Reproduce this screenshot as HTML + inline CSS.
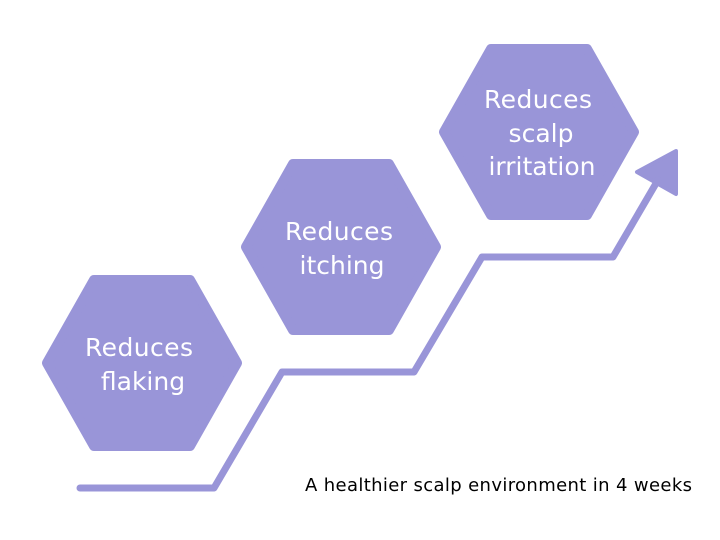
<!DOCTYPE html>
<html><head><style>body{margin:0;background:#fff}svg{display:block}</style></head><body>
<svg width="720" height="540" xmlns="http://www.w3.org/2000/svg">
<g fill="#9995d8" stroke="#9995d8" stroke-width="10" stroke-linejoin="round">
<polygon points="47,363 94,280 190,280 237,363 190,446 94,446"/>
<polygon points="246,247 293,164 389,164 436,247 389,330 293,330"/>
<polygon points="444,132 491,49 587,49 634,132 587,215 491,215"/>
<polygon points="676,151 637,172 676,194" stroke-width="4"/>
</g>
<polyline points="80,488 214,488 282,372 414,372 482,257 613,257 658,180" fill="none" stroke="#9995d8" stroke-width="7" stroke-linecap="round" stroke-linejoin="round"/>
<g font-family="DejaVu Sans, sans-serif" fill="#fff" font-size="25" text-anchor="middle">
<text x="139" y="356" textLength="108">Reduces</text><text x="143" y="390">flaking</text>
<text x="339" y="240" textLength="108">Reduces</text><text x="342" y="274">itching</text>
<text x="538" y="108" textLength="108">Reduces</text><text x="541" y="142">scalp</text><text x="542" y="175">irritation</text>
</g>
<text x="305" y="491" font-family="DejaVu Sans, sans-serif" font-size="18" textLength="387" fill="#000">A healthier scalp environment in 4 weeks</text>
</svg>
</body></html>
